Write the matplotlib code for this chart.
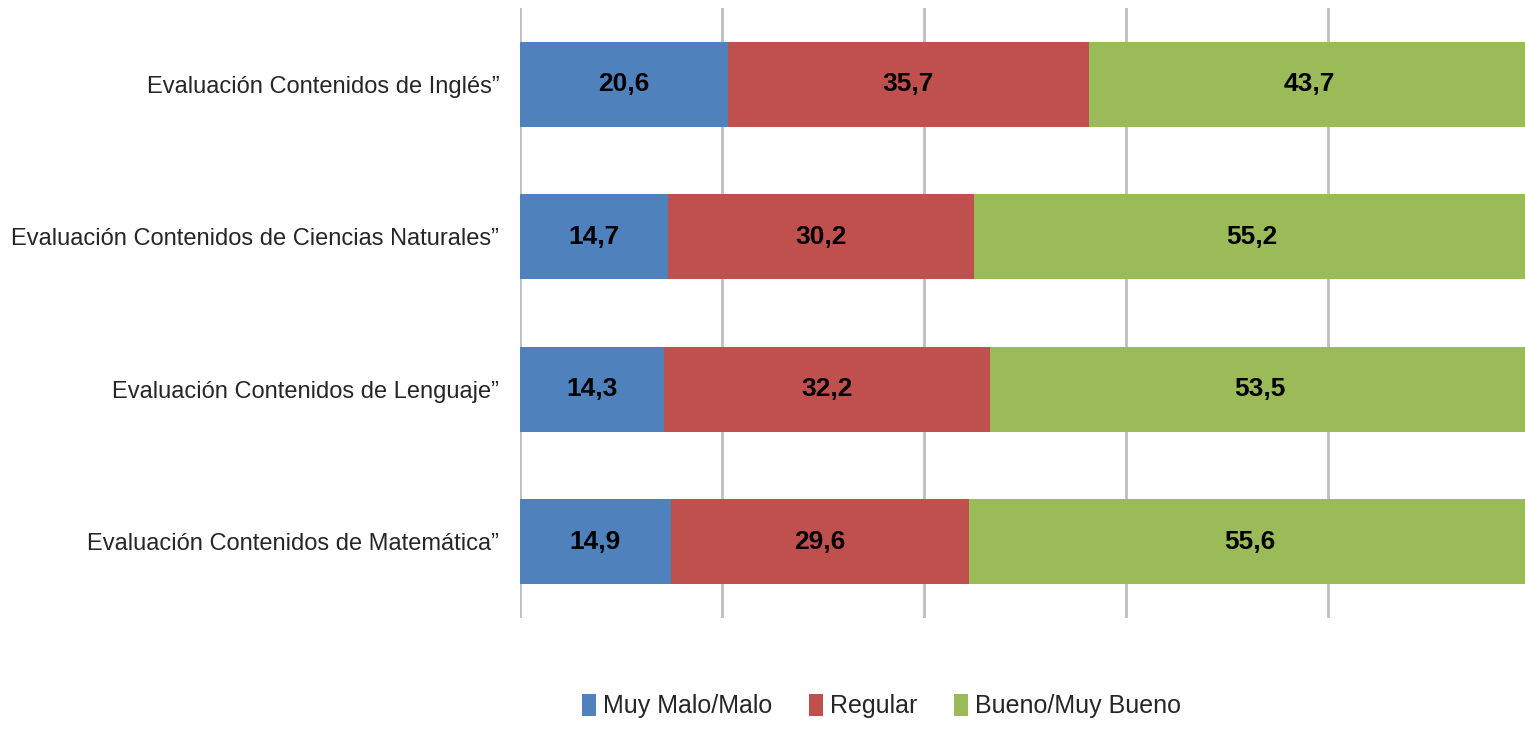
import matplotlib.pyplot as plt
import numpy as np

categories = [
    "Evaluación Contenidos de Inglés”",
    "Evaluación Contenidos de Ciencias Naturales”",
    "Evaluación Contenidos de Lenguaje”",
    "Evaluación Contenidos de Matemática”",
]
series_names = ["Muy Malo/Malo", "Regular", "Bueno/Muy Bueno"]
malo = [20.6, 14.7, 14.3, 14.9]
regular = [35.7, 30.2, 32.2, 29.6]
bueno = [43.7, 55.2, 53.5, 55.6]
colors = ["#4F81BD", "#C0504D", "#9BBB59"]

plt.rcParams["font.family"] = ["Liberation Sans", "DejaVu Sans"]

fig = plt.figure(figsize=(15.25, 7.3), dpi=100)
ax = fig.add_axes([0.341, 0.1534, 0.6623, 0.8356])

y = np.arange(len(categories))
left = np.zeros(len(categories))
for name, vals, c in zip(series_names, [malo, regular, bueno], colors):
    bars = ax.barh(y, vals, left=left, height=0.56, color=c, label=name, zorder=2)
    labels = [f"{v:.1f}".replace(".", ",") for v in vals]
    ax.bar_label(bars, labels=labels, label_type="center",
                 fontsize=19, fontweight="bold", color="black")
    left += np.array(vals)

ax.set_xlim(0, 100)
ax.set_ylim(len(categories) - 0.5, -0.5)
ax.set_xticks([0, 20, 40, 60, 80, 100])
ax.xaxis.grid(True, color="#BFBFBF", linewidth=2, zorder=0)
ax.tick_params(axis="x", length=0, labelbottom=False)
ax.tick_params(axis="y", length=0, pad=15, labelsize=17, labelcolor="#262626")
ax.set_yticks(y)
ax.set_yticklabels(categories)
for s in ax.spines.values():
    s.set_visible(False)

fig.legend(loc="center", bbox_to_anchor=(0.578, 0.033), ncol=3, frameon=False,
           fontsize=18, handlelength=0.56, handleheight=1.0, handletextpad=0.3,
           columnspacing=1.45, labelcolor="#262626")

fig.savefig("out.png", dpi=100)
